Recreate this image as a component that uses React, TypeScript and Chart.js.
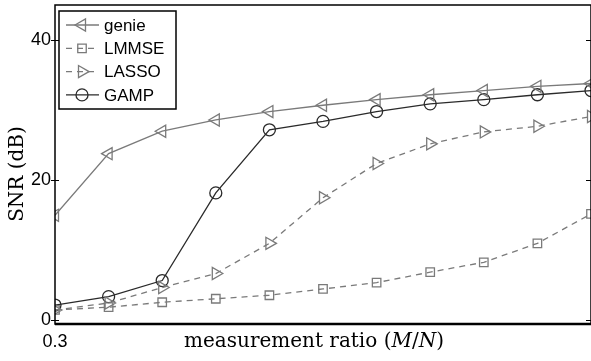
import { useEffect, useRef } from "react";
import { Chart, registerables } from "chart.js";
import { drawPoint } from "chart.js/helpers";

Chart.register(...registerables);

const ratios = [0.3, 0.35, 0.4, 0.45, 0.5, 0.55, 0.6, 0.65, 0.7, 0.75, 0.8];
const genie = [15.0, 23.8, 27.0, 28.6, 29.8, 30.7, 31.5, 32.2, 32.8, 33.4, 33.8];
const lmmse = [1.5, 1.9, 2.6, 3.1, 3.6, 4.5, 5.4, 6.9, 8.3, 11.0, 15.2];
const lasso = [1.5, 2.5, 4.7, 6.7, 11.0, 17.5, 22.4, 25.2, 26.9, 27.7, 29.1];
const gamp = [2.2, 3.4, 5.7, 18.2, 27.2, 28.4, 29.8, 30.9, 31.5, 32.2, 32.8];

const yTicks = [0, 20, 40];
const xTicks = [0.3];
const seriesNames = ["genie", "LMMSE", "LASSO", "GAMP"];

const GRAY = "#7a7a7a";
const DARK = "#2a2a2a";
const DASH = [6, 5];

const styles = [
  { color: GRAY, dash: [] as number[], pointStyle: "triangle", radius: 7, rotation: -90 },
  { color: GRAY, dash: DASH, pointStyle: "rect", radius: 6, rotation: 0 },
  { color: GRAY, dash: DASH, pointStyle: "triangle", radius: 7, rotation: 90 },
  { color: DARK, dash: [] as number[], pointStyle: "circle", radius: 6, rotation: 0 },
];

const seriesData = [genie, lmmse, lasso, gamp];

const framePlugin = {
  id: "frame",
  afterDatasetsDraw(chart: any) {
    const { ctx, chartArea: a, scales } = chart;
    const ys = scales.y;
    ctx.save();
    // axes box
    ctx.strokeStyle = "#000";
    ctx.lineWidth = 1.5;
    ctx.setLineDash([]);
    ctx.strokeRect(a.left, a.top, a.right - a.left, a.bottom - a.top);
    ctx.lineWidth = 2.5;
    ctx.beginPath();
    ctx.moveTo(a.left, a.bottom);
    ctx.lineTo(a.right, a.bottom);
    ctx.stroke();
    // ticks
    ctx.lineWidth = 1;
    for (const v of yTicks) {
      const py = Math.round(ys.getPixelForValue(v)) + 0.5;
      ctx.beginPath();
      ctx.moveTo(a.left - 4, py);
      ctx.lineTo(a.left + 4, py);
      ctx.moveTo(a.right - 5, py);
      ctx.lineTo(a.right, py);
      ctx.stroke();
    }
    // legend
    const lx = 59, ly = 11, lw = 117, lh = 98;
    ctx.fillStyle = "#fff";
    ctx.fillRect(lx, ly, lw, lh);
    ctx.strokeStyle = "#000";
    ctx.lineWidth = 1.5;
    ctx.strokeRect(lx, ly, lw, lh);
    seriesNames.forEach((name, i) => {
      const st = styles[i];
      const y = 25 + i * 23.3;
      ctx.strokeStyle = st.color;
      ctx.lineWidth = 1.3;
      ctx.setLineDash(st.dash);
      ctx.beginPath();
      ctx.moveTo(66, y);
      ctx.lineTo(99, y);
      ctx.stroke();
      ctx.setLineDash([]);
      ctx.fillStyle = "rgba(0,0,0,0)";
      drawPoint(ctx, { pointStyle: st.pointStyle, radius: st.radius, rotation: st.rotation, borderWidth: 1.3 } as any, 82, y);
      ctx.fillStyle = "#000";
      ctx.font = "17px 'Liberation Sans', Arial, sans-serif";
      ctx.textAlign = "left";
      ctx.textBaseline = "middle";
      ctx.fillText(name, 104, y + 1);
    });
    // axis titles
    ctx.fillStyle = "#000";
    ctx.save();
    ctx.translate(18, 174);
    ctx.rotate(-Math.PI / 2);
    ctx.font = "20px 'DejaVu Serif', serif";
    ctx.textAlign = "center";
    ctx.textBaseline = "middle";
    ctx.fillText("SNR (dB)", 0, 0);
    ctx.restore();
    const parts: [string, boolean][] = [
      ["measurement ratio (", false],
      ["M", true],
      ["/", false],
      ["N", true],
      [")", false],
    ];
    const fontOf = (it: boolean) => (it ? "italic 20px 'DejaVu Serif', serif" : "20px 'DejaVu Serif', serif");
    let total = 0;
    for (const [t, it] of parts) {
      ctx.font = fontOf(it);
      total += ctx.measureText(t).width;
    }
    let x = 314 - total / 2;
    ctx.textAlign = "left";
    ctx.textBaseline = "alphabetic";
    for (const [t, it] of parts) {
      ctx.font = fontOf(it);
      ctx.fillText(t, x, 347);
      x += ctx.measureText(t).width;
    }
    ctx.restore();
  },
};

export default function App() {
  const ref = useRef<HTMLCanvasElement | null>(null);
  useEffect(() => {
    document.body.style.margin = "0";
    const canvas = ref.current!;
    const chart = new Chart(canvas, {
      type: "line",
      data: {
        labels: ratios,
        datasets: seriesNames.map((name, i) => ({
          label: name,
          data: ratios.map((r, k) => ({ x: r, y: seriesData[i][k] })),
          borderColor: styles[i].color,
          borderWidth: 1.3,
          borderDash: styles[i].dash,
          pointStyle: styles[i].pointStyle as any,
          pointRadius: styles[i].radius,
          pointRotation: styles[i].rotation,
          pointBorderColor: styles[i].color,
          pointBackgroundColor: "rgba(0,0,0,0)",
          pointBorderWidth: 1.3,
          tension: 0,
          fill: false,
        })),
      },
      options: {
        animation: false,
        responsive: false,
        maintainAspectRatio: false,
        layout: { autoPadding: false, padding: { top: 5, right: 0, left: 0, bottom: 0 } },
        plugins: { legend: { display: false }, tooltip: { enabled: false } },
        scales: {
          x: {
            type: "linear",
            min: 0.3,
            max: 0.8,
            grid: { display: false, drawTicks: false },
            border: { display: false },
            afterBuildTicks: (s: any) => {
              s.ticks = xTicks.map((v) => ({ value: v }));
            },
            afterFit: (s: any) => {
              s.height = 37;
              s.paddingLeft = 0;
              s.paddingRight = 0;
            },
            ticks: {
              padding: 7,
              maxRotation: 0,
              autoSkip: false,
              color: "#000",
              font: { family: "'Liberation Sans', Arial, sans-serif", size: 18 },
              callback: (v: any) => String(v),
            },
          },
          y: {
            type: "linear",
            min: -0.5,
            max: 45,
            grid: { display: false, drawTicks: false },
            border: { display: false },
            afterBuildTicks: (s: any) => {
              s.ticks = yTicks.map((v) => ({ value: v }));
            },
            afterFit: (s: any) => {
              s.width = 55;
              s.paddingTop = 0;
              s.paddingBottom = 0;
            },
            ticks: {
              padding: 4,
              color: "#000",
              font: { family: "'Liberation Sans', Arial, sans-serif", size: 18 },
            },
          },
        },
      },
      plugins: [framePlugin],
    });
    return () => chart.destroy();
  }, []);
  return (
    <div style={{ position: "fixed", left: 0, top: 0, width: 591, height: 361, background: "#fff" }}>
      <canvas ref={ref} width={591} height={361} style={{ display: "block" }} />
    </div>
  );
}
